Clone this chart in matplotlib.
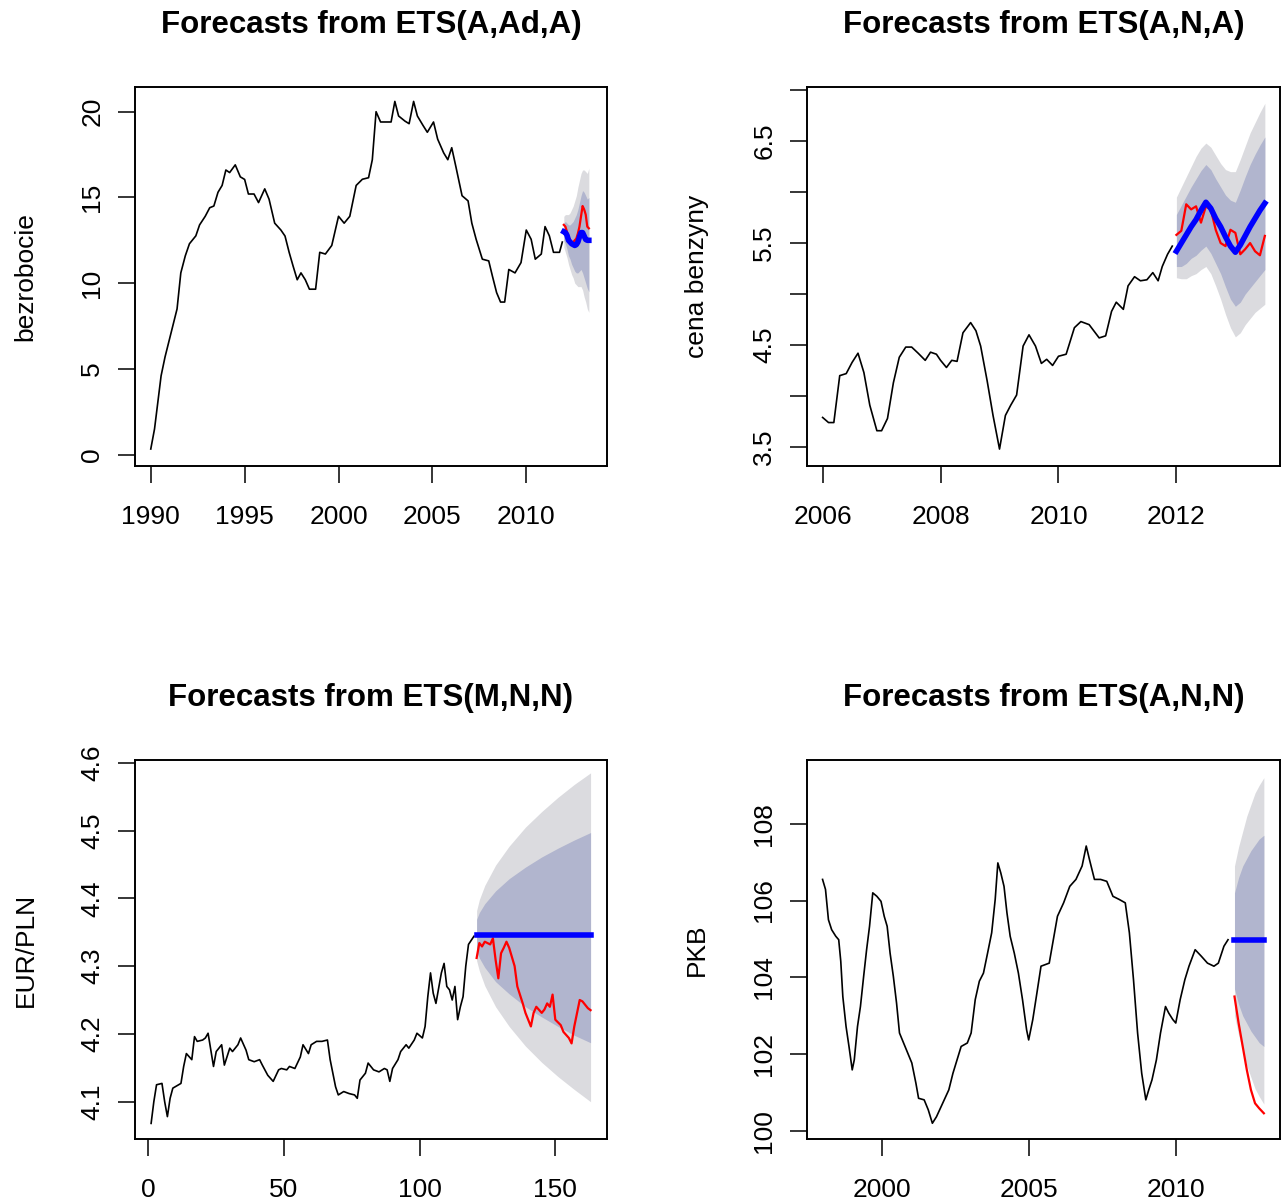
import numpy as np
import matplotlib.pyplot as plt

plt.rcParams['font.family'] = ['Liberation Sans', 'DejaVu Sans']

# --- bezrobocie (miesieczne, odczyty) ---
bez_t = [1990.0, 1990.2, 1990.55, 1990.76, 1991.08, 1991.4, 1991.6, 1991.84, 1992.06, 1992.4,
         1992.6, 1992.9, 1993.14, 1993.36, 1993.58, 1993.8, 1994.0, 1994.2, 1994.5, 1994.77,
         1995.0, 1995.2, 1995.5, 1995.74, 1996.07, 1996.3, 1996.6, 1996.93, 1997.15, 1997.37,
         1997.58, 1997.8, 1998.0, 1998.23, 1998.45, 1998.78, 1999.0, 1999.3, 1999.64, 2000.0,
         2000.3, 2000.6, 2000.94, 2001.27, 2001.6, 2001.8, 2002.0, 2002.24, 2002.57, 2002.8,
         2003.0, 2003.2, 2003.54, 2003.76, 2004.0, 2004.2, 2004.5, 2004.73, 2005.06, 2005.28,
         2005.6, 2005.82, 2006.03, 2006.25, 2006.58, 2006.9, 2007.1, 2007.33, 2007.66, 2008.0,
         2008.2, 2008.42, 2008.63, 2008.85, 2009.07, 2009.4, 2009.72, 2010.0, 2010.26, 2010.48,
         2010.8, 2011.0, 2011.23, 2011.45, 2011.77, 2011.92]
bez_v = [0.33, 1.5, 4.6, 5.7, 7.1, 8.5, 10.6, 11.6, 12.3, 12.76,
         13.4, 13.9, 14.4, 14.5, 15.3, 15.7, 16.6, 16.45, 16.9, 16.2,
         16.05, 15.2, 15.2, 14.7, 15.5, 14.9, 13.5, 13.1, 12.75, 11.8,
         11.0, 10.2, 10.6, 10.2, 9.65, 9.65, 11.8, 11.7, 12.2, 13.9,
         13.5, 13.9, 15.7, 16.06, 16.15, 17.2, 20.0, 19.4, 19.4, 19.4,
         20.6, 19.75, 19.45, 19.3, 20.6, 19.75, 19.2, 18.8, 19.4, 18.4,
         17.6, 17.2, 17.9, 16.8, 15.1, 14.8, 13.5, 12.56, 11.4, 11.3,
         10.4, 9.45, 8.9, 8.9, 10.8, 10.6, 11.2, 13.1, 12.56, 11.4,
         11.7, 13.3, 12.76, 11.8, 11.8, 12.4]
bez_prog = [13.0, 12.95, 12.8, 12.5, 12.4, 12.3, 12.25, 12.2, 12.25, 12.4, 12.7, 12.95, 12.95, 12.75, 12.55, 12.5, 12.5]
bez_real = [13.4, 13.3, 13.0, 12.7, 12.5, 12.4, 12.4, 12.5, 12.6, 12.9, 13.3, 13.9, 14.5, 14.3, 14.0, 13.3, 13.2]
bez_hi95 = [13.9, 14.0, 14.0, 14.0, 14.1, 14.3, 14.5, 14.8, 15.1, 15.6, 16.0, 16.4, 16.6, 16.6, 16.5, 16.4, 16.7]
bez_hi80 = [13.5, 13.6, 13.5, 13.4, 13.4, 13.5, 13.6, 13.8, 14.0, 14.3, 14.7, 15.1, 15.4, 15.3, 15.1, 14.9, 15.0]
bez_lo80 = [12.5, 12.3, 12.0, 11.6, 11.4, 11.1, 10.9, 10.7, 10.6, 10.6, 10.7, 10.8, 10.6, 10.3, 10.0, 9.7, 9.5]
bez_lo95 = [12.1, 11.8, 11.5, 11.1, 10.8, 10.5, 10.3, 10.0, 9.9, 9.8, 9.8, 9.8, 9.6, 9.2, 8.9, 8.5, 8.3]

# --- cena benzyny ---
ben_t = [2006.0, 2006.1, 2006.19, 2006.29, 2006.4, 2006.5, 2006.6, 2006.7, 2006.8, 2006.92,
         2007.0, 2007.1, 2007.2, 2007.3, 2007.41, 2007.51, 2007.62, 2007.74, 2007.83, 2007.93,
         2008.0, 2008.1, 2008.19, 2008.28, 2008.38, 2008.51, 2008.6, 2008.68, 2008.79, 2008.89,
         2009.0, 2009.1, 2009.19, 2009.29, 2009.4, 2009.5, 2009.61, 2009.71, 2009.8, 2009.9,
         2010.0, 2010.13, 2010.27, 2010.38, 2010.52, 2010.69, 2010.8, 2010.9, 2010.98, 2011.1,
         2011.18, 2011.29, 2011.39, 2011.5, 2011.6, 2011.69, 2011.76, 2011.85, 2011.93]
ben_v = [3.79, 3.74, 3.74, 4.2, 4.22, 4.33, 4.42, 4.23, 3.91, 3.66,
         3.66, 3.78, 4.13, 4.38, 4.48, 4.48, 4.42, 4.35, 4.43, 4.41,
         4.35, 4.28, 4.35, 4.34, 4.62, 4.72, 4.64, 4.49, 4.15, 3.81,
         3.48, 3.81, 3.91, 4.01, 4.49, 4.6, 4.49, 4.32, 4.36, 4.3,
         4.39, 4.41, 4.67, 4.73, 4.7, 4.57, 4.59, 4.83, 4.92, 4.85,
         5.08, 5.17, 5.13, 5.14, 5.21, 5.13, 5.27, 5.39, 5.47]
ben_prog = [5.42, 5.50, 5.58, 5.66, 5.73, 5.82, 5.90, 5.84, 5.74, 5.66, 5.56, 5.47, 5.41, 5.48, 5.57, 5.66, 5.74, 5.82, 5.89]
ben_real = [5.58, 5.62, 5.88, 5.83, 5.86, 5.70, 5.86, 5.83, 5.63, 5.50, 5.47, 5.63, 5.60, 5.39, 5.44, 5.50, 5.42, 5.38, 5.57]
ben_hi95 = [5.95, 6.05, 6.15, 6.25, 6.35, 6.43, 6.48, 6.44, 6.36, 6.28, 6.22, 6.20, 6.20, 6.32, 6.45, 6.58, 6.68, 6.78, 6.87]
ben_hi80 = [5.78, 5.87, 5.96, 6.05, 6.13, 6.21, 6.27, 6.22, 6.13, 6.05, 5.97, 5.92, 5.90, 6.02, 6.15, 6.27, 6.37, 6.46, 6.54]
ben_lo80 = [5.27, 5.27, 5.30, 5.35, 5.38, 5.43, 5.47, 5.40, 5.30, 5.20, 5.07, 4.95, 4.88, 4.92, 5.00, 5.06, 5.12, 5.18, 5.24]
ben_lo95 = [5.16, 5.15, 5.15, 5.18, 5.20, 5.24, 5.27, 5.20, 5.08, 4.95, 4.80, 4.67, 4.58, 4.62, 4.70, 4.76, 4.82, 4.86, 4.90]

# --- EUR/PLN (notowania 1..120, prognoza 121..163) ---
eur_t = [1, 2, 3, 5, 6, 7, 8, 9, 12, 13, 14, 16, 17, 18, 20, 21, 22, 24, 25, 27,
         28, 30, 31, 33, 34, 36, 37, 39, 41, 42, 44, 46, 48, 49, 51, 52, 54, 56, 57, 59,
         60, 62, 64, 66, 67, 69, 70, 72, 74, 76, 77, 78, 80, 81, 83, 85, 87, 88, 89, 90,
         92, 93, 95, 96, 98, 99, 101, 102, 103, 104, 105, 106, 108, 109, 110, 111, 112, 113, 114, 115,
         116, 117, 118, 120]
eur_v = [4.068, 4.1, 4.125, 4.127, 4.1, 4.078, 4.105, 4.12, 4.127, 4.152, 4.171, 4.162, 4.196, 4.189, 4.191, 4.194, 4.201, 4.152, 4.174, 4.184,
         4.154, 4.179, 4.174, 4.184, 4.194, 4.176, 4.162, 4.159, 4.162, 4.154, 4.139, 4.13, 4.147, 4.149, 4.147, 4.152, 4.149, 4.166, 4.184, 4.171,
         4.184, 4.189, 4.189, 4.191, 4.162, 4.122, 4.11, 4.115, 4.112, 4.11, 4.105, 4.132, 4.142, 4.157, 4.147, 4.144, 4.149, 4.147, 4.13, 4.149,
         4.162, 4.174, 4.184, 4.179, 4.191, 4.201, 4.194, 4.211, 4.255, 4.29, 4.26, 4.245, 4.29, 4.304, 4.27, 4.265, 4.25, 4.27, 4.221, 4.24,
         4.255, 4.3, 4.332, 4.344]
eur_real_t = [121, 122, 123, 124, 126, 127, 128, 129, 130, 131, 132, 133, 135, 136, 138, 139, 141, 142, 143, 145,
              146, 147, 148, 149, 150, 152, 153, 155, 156, 157, 159, 160, 162, 163]
eur_real = [4.312, 4.334, 4.329, 4.336, 4.332, 4.341, 4.309, 4.282, 4.319, 4.327, 4.336, 4.327, 4.300, 4.270, 4.245, 4.231, 4.211, 4.231, 4.240, 4.231,
            4.236, 4.245, 4.240, 4.258, 4.221, 4.213, 4.203, 4.194, 4.186, 4.211, 4.250, 4.248, 4.238, 4.235]
eur_band_t = [121, 122, 124, 128, 133, 139, 145, 151, 157, 163]
eur_prog = [4.346] * len(eur_band_t)
eur_hi95 = [4.382, 4.398, 4.419, 4.449, 4.477, 4.505, 4.528, 4.549, 4.568, 4.585]
eur_lo95 = [4.308, 4.293, 4.271, 4.240, 4.211, 4.182, 4.158, 4.137, 4.118, 4.100]
eur_hi80 = [4.369, 4.379, 4.392, 4.411, 4.429, 4.446, 4.461, 4.474, 4.486, 4.497]
eur_lo80 = [4.322, 4.312, 4.298, 4.277, 4.259, 4.240, 4.225, 4.211, 4.198, 4.187]

# --- PKB ---
pkb_t = [1997.97, 1998.07, 1998.17, 1998.28, 1998.42, 1998.52, 1998.59, 1998.66, 1998.77, 1998.87,
         1998.98, 1999.05, 1999.16, 1999.26, 1999.37, 1999.47, 1999.57, 1999.68, 1999.82, 1999.96,
         2000.07, 2000.17, 2000.27, 2000.38, 2000.49, 2000.59, 2000.73, 2000.87, 2001.01, 2001.15,
         2001.24, 2001.43, 2001.57, 2001.71, 2001.85, 2002.06, 2002.27, 2002.41, 2002.55, 2002.69,
         2002.9, 2003.03, 2003.17, 2003.31, 2003.45, 2003.59, 2003.73, 2003.85, 2003.94, 2004.04,
         2004.15, 2004.25, 2004.36, 2004.5, 2004.64, 2004.78, 2004.92, 2004.99, 2005.13, 2005.27,
         2005.41, 2005.55, 2005.69, 2005.83, 2005.97, 2006.18, 2006.39, 2006.6, 2006.81, 2006.95,
         2007.06, 2007.23, 2007.44, 2007.65, 2007.86, 2008.07, 2008.28, 2008.42, 2008.56, 2008.7,
         2008.84, 2008.98, 2009.08, 2009.19, 2009.34, 2009.48, 2009.65, 2009.76, 2009.9, 2010.0,
         2010.15, 2010.31, 2010.45, 2010.66, 2010.87, 2011.08, 2011.3, 2011.45, 2011.64, 2011.78]
pkb_v = [106.55, 106.29, 105.5, 105.24, 105.07, 104.98, 104.42, 103.5, 102.72, 102.2,
         101.59, 101.85, 102.72, 103.24, 104.03, 104.72, 105.33, 106.2, 106.11, 105.98,
         105.59, 105.33, 104.63, 104.03, 103.33, 102.55, 102.29, 102.03, 101.77, 101.24,
         100.85, 100.81, 100.55, 100.2, 100.37, 100.72, 101.07, 101.5, 101.85, 102.2,
         102.29, 102.55, 103.42, 103.9, 104.11, 104.63, 105.16, 106.03, 106.98, 106.72,
         106.37, 105.68, 105.07, 104.63, 104.11, 103.42, 102.63, 102.37, 102.9, 103.59,
         104.29, 104.33, 104.37, 104.98, 105.59, 105.94, 106.37, 106.55, 106.9, 107.42,
         107.07, 106.55, 106.55, 106.5, 106.11, 106.03, 105.94, 105.16, 103.94, 102.55,
         101.5, 100.81, 101.07, 101.33, 101.85, 102.55, 103.24, 103.07, 102.9, 102.81,
         103.42, 103.94, 104.29, 104.72, 104.55, 104.37, 104.29, 104.37, 104.81, 104.98]
pkb_band_t = [2012.0, 2012.14, 2012.28, 2012.42, 2012.56, 2012.7, 2012.84, 2013.0]
pkb_prog = [104.96] * len(pkb_band_t)
pkb_real = [103.5, 102.81, 102.2, 101.59, 101.07, 100.72, 100.59, 100.46]
pkb_hi95 = [106.9, 107.4, 107.8, 108.2, 108.5, 108.8, 109.0, 109.2]
pkb_hi80 = [106.2, 106.6, 106.9, 107.1, 107.3, 107.45, 107.6, 107.7]
pkb_lo80 = [103.7, 103.3, 103.0, 102.8, 102.6, 102.45, 102.3, 102.2]
pkb_lo95 = [103.0, 102.5, 102.1, 101.7, 101.4, 101.1, 100.9, 100.7]

# czasy prognoz miesiecznych
bez_tf = 2012.0 + np.arange(len(bez_prog)) / 12
ben_tf = 2012.0 + np.arange(len(ben_prog)) / 12

fig = plt.figure(figsize=(12.82, 12.03), dpi=100)


def panel(rect, tytul, opis, t, v, bt, lo95, hi95, lo80, hi80, pt, prog, rt, real,
          xlim, ylim, xticks, yticks, ylabels):
    ax = fig.add_axes(rect)
    ax.fill_between(bt, lo95, hi95, color="#DBDBDF", lw=0)
    ax.fill_between(bt, lo80, hi80, color="#B1B5CE", lw=0)
    ax.plot(t, v, color="black", lw=1.2)
    ax.plot(rt, real, color="red", lw=1.6)
    ax.plot(pt, prog, color="blue", lw=4)
    ax.set_xlim(xlim)
    ax.set_ylim(ylim)
    ax.set_xticks(xticks)
    ax.set_xticklabels([str(x) for x in xticks])
    ax.set_yticks(yticks)
    ax.set_yticklabels(ylabels)
    for s in ax.spines.values():
        s.set_linewidth(1.4)
    ax.tick_params(direction="out", length=12, width=1.1, labelsize=19)
    ax.tick_params(axis="x", pad=16)
    ax.tick_params(axis="y", pad=10)
    for lab in ax.get_yticklabels():
        lab.set_rotation(90)
        lab.set_va("center")
    ax.text(0.5, 1.163, tytul, transform=ax.transAxes, ha="center", va="center",
            fontsize=22.5, fontweight="bold")
    ax.text(-0.232, 0.5, opis, transform=ax.transAxes, ha="center", va="center",
            rotation=90, fontsize=19)
    return ax


w = 472 / 1282
h = 379 / 1203
top_b = 1 - 466 / 1203
bot_b = 1 - 1139 / 1203

panel([135 / 1282, top_b, w, h], "Forecasts from ETS(A,Ad,A)", "bezrobocie",
      bez_t, bez_v, bez_tf, bez_lo95, bez_hi95, bez_lo80, bez_hi80,
      bez_tf, bez_prog, bez_tf, bez_real,
      (1989.16, 2014.3), (-0.66, 21.44), [1990, 1995, 2000, 2005, 2010],
      [0, 5, 10, 15, 20], ["0", "5", "10", "15", "20"])

panel([807 / 1282, top_b, 473 / 1282, h], "Forecasts from ETS(A,N,A)", "cena benzyny",
      ben_t, ben_v, ben_tf, ben_lo95, ben_hi95, ben_lo80, ben_hi80,
      ben_tf, ben_prog, ben_tf, ben_real,
      (2005.735, 2013.757), (3.314, 7.03), [2006, 2008, 2010, 2012],
      [3.5, 4.0, 4.5, 5.0, 5.5, 6.0, 6.5, 7.0], ["3.5", "", "4.5", "", "5.5", "", "6.5", ""])

panel([135 / 1282, bot_b, w, h], "Forecasts from ETS(M,N,N)", "EUR/PLN",
      eur_t, eur_v, eur_band_t, eur_lo95, eur_hi95, eur_lo80, eur_hi80,
      eur_band_t, eur_prog, eur_real_t, eur_real,
      (-4.94, 169.06), (4.045, 4.604), [0, 50, 100, 150],
      [4.1, 4.2, 4.3, 4.4, 4.5, 4.6], ["4.1", "4.2", "4.3", "4.4", "4.5", "4.6"])

panel([807 / 1282, bot_b, 473 / 1282, h], "Forecasts from ETS(A,N,N)", "PKB",
      pkb_t, pkb_v, pkb_band_t, pkb_lo95, pkb_hi95, pkb_lo80, pkb_hi80,
      pkb_band_t, pkb_prog, pkb_band_t, pkb_real,
      (1997.44, 2013.55), (99.79, 109.66), [2000, 2005, 2010],
      [100, 102, 104, 106, 108], ["100", "102", "104", "106", "108"])

fig.savefig("out.png", dpi=100)
